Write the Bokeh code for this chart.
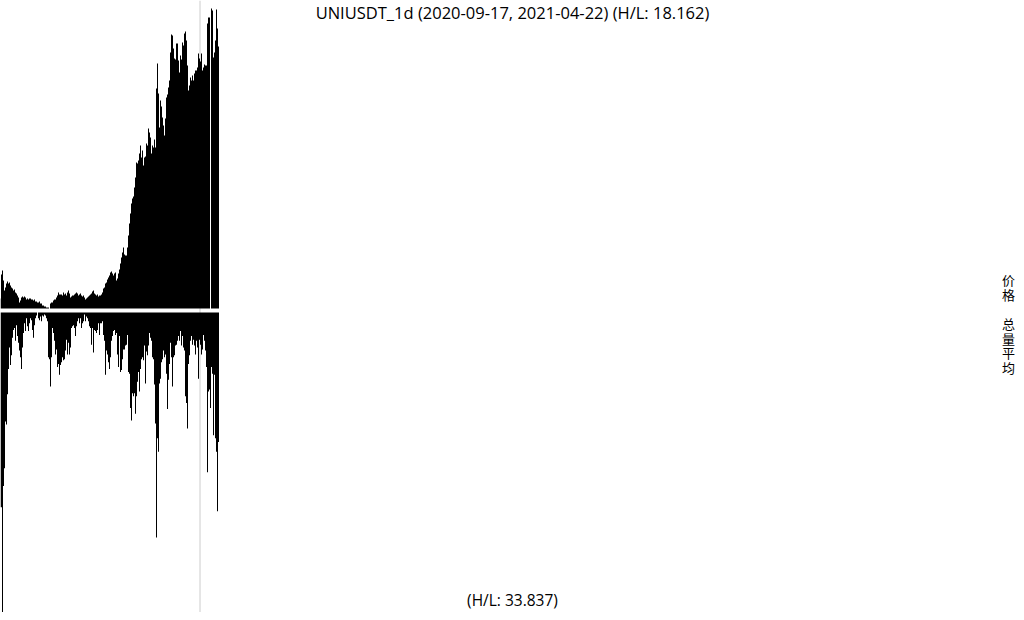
from bokeh.plotting import figure
from bokeh.models import Range1d, Span, Label, ColumnDataSource
from bokeh.embed import file_html
from bokeh.resources import INLINE

title_text = "UNIUSDT_1d (2020-09-17, 2021-04-22) (H/L: 18.162)"
volume_note = "(H/L: 33.837)"
price_label = ["价", "格"]
volume_label = ["总", "量", "平", "均"]
marker_index = 199

NaN = float("nan")

# daily close (USDT), one per column
price = [
    3.03, 5.68, 6.13, 5.02, 3.92, 4.25, 4.69, 4.91, 4.69, 4.80,
    4.47, 4.25, 4.14, 3.92, 4.03, 3.70, 3.59, 3.37, 3.14, 2.59,
    2.81, 3.14, 3.25, 3.14, 3.25, 3.14, 2.92, 3.03, 2.92, 3.03,
    3.03, 2.92, 2.92, 2.81, 2.92, 2.70, 2.70, 2.59, 2.59, 2.70,
    2.48, 2.48, 2.26, 2.26, 2.15, 2.15, 2.04, 2.04, 2.04, 1.93,
    2.48, 2.59, 2.59, 2.81, 2.92, 2.92, 3.14, 3.37, 3.70, 3.48,
    3.48, 3.48, 3.37, 3.70, 3.48, 3.59, 3.37, 3.70, 3.92, 3.59,
    3.14, 3.25, 3.37, 3.37, 3.48, 3.59, 3.70, 3.59, 3.37, 3.48,
    3.59, 3.37, 3.25, 3.37, 3.14, 2.92, 3.03, 3.14, 3.25, 3.37,
    3.48, 3.59, 3.81, 3.92, 3.59, 3.48, 3.37, 3.48, 3.25, 3.37,
    3.37, 3.48, 3.70, 4.14, 4.25, 4.69, 4.80, 5.13, 5.35, 5.57,
    5.90, 6.01, 5.79, 5.57, 5.79, 5.90, 5.02, 5.24, 5.79, 6.24,
    6.90, 7.56, 8.11, 8.66, 7.89, 7.78, 7.78, 8.66, 9.99, 11.31,
    12.42, 13.52, 14.07, 14.29, 15.29, 16.39, 18.05, 17.94, 18.27, 19.04,
    19.93, 18.60, 19.37, 17.72, 18.60, 18.71, 20.15, 19.93, 21.80, 21.36,
    20.81, 19.04, 19.93, 19.70, 20.59, 19.70, 26.22, 28.98, 25.67, 21.91,
    24.89, 24.23, 23.02, 22.13, 21.03, 22.91, 25.22, 25.56, 26.33, 27.10,
    30.19, 32.18, 32.07, 30.63, 29.53, 29.42, 31.19, 31.19, 29.31, 27.98,
    29.86, 29.42, 31.30, 30.96, 32.29, 32.51, 31.52, 28.76, 26.00, 26.55,
    27.43, 27.10, 27.65, 27.10, 27.87, 28.21, 28.21, 28.54, 30.08, 29.53,
    29.20, 30.08, 28.21, 28.54, 28.87, 28.76, 28.76, 33.39, 34.06, 34.06,
    NaN, 35.05, 34.83, 29.64, 30.19, 31.52, 34.94, 32.84, 30.85,
]

# daily volume (millions UNI), one per column
volume = [
    104.69, 104.69, 158.69, 93.69, 84.69, 60.69, 62.19, 46.69, 33.69, 22.69,
    31.69, 26.69, 17.69, 13.69, 12.69, 19.19, 11.19, 16.69, 20.19, 24.19,
    27.69, 33.69, 22.69, 15.19, 10.19, 14.19, 7.69, 11.69, 14.19, 10.19,
    7.69, 8.69, 13.69, 17.69, 11.19, 7.69, 6.19, 4.69, 7.69, 8.69,
    6.69, 9.19, 6.19, 6.69, 5.69, 6.19, 7.69, 9.19, 27.69, 28.69,
    42.69, 27.69, 12.69, 15.19, 19.19, 26.19, 23.69, 32.69, 31.19, 36.69,
    31.69, 30.19, 27.69, 29.19, 28.69, 24.19, 18.69, 26.19, 20.19, 26.19,
    22.69, 12.69, 11.69, 11.19, 12.69, 16.69, 11.69, 9.19, 7.69, 10.19,
    7.69, 12.69, 10.19, 9.19, 5.69, 9.19, 6.69, 7.69, 9.19, 11.69,
    12.69, 21.19, 12.69, 25.19, 13.69, 14.19, 15.19, 13.69, 10.19, 16.19,
    10.19, 10.19, 9.19, 16.19, 19.19, 36.69, 24.19, 26.19, 30.19, 33.69,
    27.69, 19.19, 16.69, 14.19, 13.69, 16.19, 15.19, 26.19, 32.69, 16.69,
    35.19, 34.19, 28.69, 23.69, 23.69, 21.69, 21.19, 16.19, 35.19, 36.19,
    53.69, 60.19, 46.19, 47.69, 46.19, 56.69, 47.69, 40.19, 35.19, 45.19,
    33.69, 28.69, 27.69, 29.19, 21.69, 41.19, 24.69, 26.69, 21.69, 15.19,
    17.69, 19.19, 27.69, 28.69, 41.69, 61.69, 120.19, 69.19, 76.19, 41.19,
    38.69, 30.19, 28.69, 24.19, 27.69, 26.19, 36.19, 54.19, 39.19, 31.19,
    20.19, 27.69, 42.69, 27.69, 26.69, 21.69, 21.19, 19.19, 16.69, 19.19,
    14.19, 21.69, 16.69, 22.69, 24.19, 47.69, 51.19, 64.19, 31.19, 26.69,
    19.19, 16.69, 21.19, 18.69, 21.69, 26.19, 19.19, 22.69, 38.69, 18.69,
    21.19, 26.19, 23.69, 16.19, 19.19, 24.19, 32.69, 86.69, 45.19, 44.19,
    53.69, 32.69, 36.19, 67.69, 36.69, 69.19, 76.19, 106.69, 71.19,
]

W, H = 1016, 612
# pixel layout inside the figure (from top): price band 8..308, volume band 312..612
P_TOP, P_BASE, V_TOP, V_BOT = 8, 308, 312, 612

valid = [v for v in price if v == v]
pmin, pmax = min(valid), max(valid)
per = (pmax - pmin) / (P_BASE - P_TOP)
p_start = pmin - (H - P_BASE) * per
p_end = pmax + P_TOP * per

vmin, vmax = min(volume), max(volume)
v_start = vmax
v_end = vmax + (vmin - vmax) * H / (V_BOT - V_TOP)

xs = [i + 0.5 for i in range(len(price))]
src = ColumnDataSource(dict(x=xs, price=price, volume=volume))

p = figure(width=W, height=H, output_backend="svg", toolbar_location=None,
           x_range=Range1d(0.5, W + 0.5), y_range=Range1d(p_start, p_end),
           min_border=0, min_border_left=0, min_border_right=0,
           min_border_top=0, min_border_bottom=0,
           x_axis_location=None, y_axis_location=None)
p.extra_y_ranges = {"vol": Range1d(v_start, v_end)}
p.grid.visible = False
p.outline_line_color = None
p.background_fill_color = "white"
p.border_fill_color = "white"

p.add_layout(Span(location=marker_index + 1, dimension="height",
                  line_color="#cccccc", line_width=1, level="underlay"))

p.vbar(x="x", width=1, bottom=pmin, top="price", source=src,
       fill_color="black", line_color=None)
p.vbar(x="x", width=1, bottom=vmin, top="volume", source=src,
       fill_color="black", line_color=None, y_range_name="vol")

p.add_layout(Label(x=512, y=H - 12, x_units="screen", y_units="screen",
                   text=title_text, text_align="center", text_baseline="middle",
                   text_font="Open Sans", text_font_size="16.5px", text_color="black"))
p.add_layout(Label(x=512, y=H - 599, x_units="screen", y_units="screen",
                   text=volume_note, text_align="center", text_baseline="middle",
                   text_font="Open Sans", text_font_size="15.5px", text_color="black"))

for i, ch in enumerate(price_label):
    p.add_layout(Label(x=1008, y=H - (279 + 14.5 * i), x_units="screen", y_units="screen",
                       text=ch, text_align="center", text_baseline="middle",
                       text_font="Noto Sans CJK SC", text_font_size="13px", text_color="black"))
for i, ch in enumerate(volume_label):
    p.add_layout(Label(x=1008, y=H - (323 + 14.5 * i), x_units="screen", y_units="screen",
                       text=ch, text_align="center", text_baseline="middle",
                       text_font="Noto Sans CJK SC", text_font_size="13px", text_color="black"))

open("out.html", "w").write(file_html(p, INLINE))
